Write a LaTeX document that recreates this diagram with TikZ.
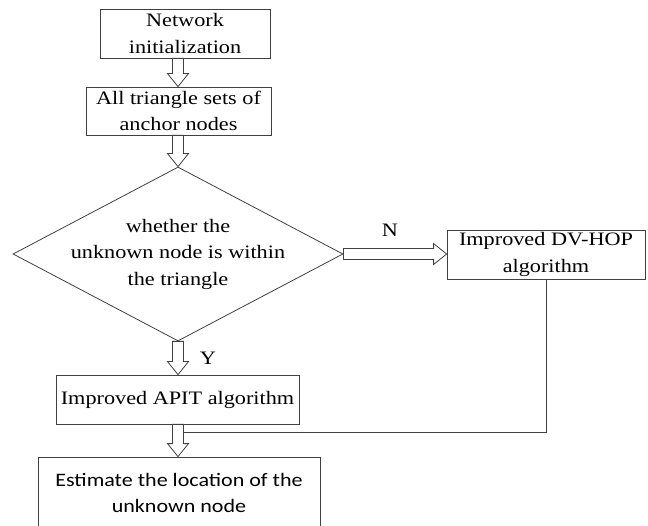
\documentclass[tikz,border=0pt]{standalone}
\usepackage{fontspec}
\setmainfont{Liberation Serif}[FakeStretch=1.17]
\newfontfamily\calibrifont{Carlito}[FakeStretch=1.16]
\usepackage{tikz}
\usetikzlibrary{shapes.geometric, positioning, calc}

% hollow block arrows (shaft 11pt, head 21pt x 13pt)
\newcommand{\fatdown}[2]{%
  \draw[hollow] let \p1=(#1), \p2=(#2) in
    (\x1-5.5pt,\y1) -- (\x1-5.5pt,\y2+13pt) -- (\x1-10.5pt,\y2+13pt)
    -- (\x1,\y2) -- (\x1+10.5pt,\y2+13pt) -- (\x1+5.5pt,\y2+13pt)
    -- (\x1+5.5pt,\y1) -- cycle;}
\newcommand{\fatright}[2]{%
  \draw[hollow] let \p1=(#1), \p2=(#2) in
    (\x1,\y1+5.5pt) -- (\x2-13pt,\y1+5.5pt) -- (\x2-13pt,\y1+10.5pt)
    -- (\x2,\y1) -- (\x2-13pt,\y1-10.5pt) -- (\x2-13pt,\y1-5.5pt)
    -- (\x1,\y1-5.5pt) -- cycle;}

\begin{document}
\begin{tikzpicture}[
  x=1pt, y=-1pt,
  txt/.style    = {font=\rmfamily\fontsize{19}{26.5}\selectfont},
  stage/.style  = {draw=black!75, line width=0.8pt, align=center, inner sep=0pt, txt},
  decision/.style = {draw=black!75, line width=0.8pt, diamond, inner sep=0pt,
                   minimum width=330pt, minimum height=174pt},
  hollow/.style = {draw=black!75, line width=0.8pt, fill=white, line join=miter},
  link/.style   = {draw=black!75, line width=0.8pt},
  lbl/.style    = {inner sep=0pt, txt},
]
\useasboundingbox (0,0) rectangle (648,526);

% ── Main column ───────────────────────────────────────────────────────────────
\node[stage, minimum width=170pt, minimum height=49pt] (net)  at (185,33.5)
      {Network\\initialization};
\node[stage, minimum width=185pt, minimum height=48pt] (tri)  at (178.5,111)
      {All triangle sets of\\anchor nodes};
\node[decision, label={[align=center, txt]center:whether the\\unknown node is within\\the triangle}]
      (dec) at (178,254) {};
\node[stage, minimum width=243pt, minimum height=49pt] (apit) at (177.5,399.5)
      {Improved APIT algorithm};
\node[stage, minimum width=282pt, minimum height=72pt,
      font=\calibrifont\fontsize{19}{26.5}\selectfont] (est) at (179,493)
      {Estimate the location of the\\unknown node};

% ── Side branch ───────────────────────────────────────────────────────────────
\node[stage, minimum width=198pt, minimum height=49pt] (dv) at (546,254.5)
      {Improved DV-HOP\\algorithm};

% ── Block arrows ──────────────────────────────────────────────────────────────
\fatdown{dec |- net.south}{dec |- tri.north}
\fatdown{dec |- tri.south}{dec.north}
\fatdown{dec.south}{dec |- apit.north}
\fatdown{dec |- apit.south}{dec |- est.north}
\fatright{dec.east}{dv.west}

% ── Return line and labels ────────────────────────────────────────────────────
\coordinate (join) at (183.5,432);
\draw[link] (dv.south) |- (join);
\path (dec.east) -- node[lbl, above=18pt, pos=0.45]{N} (dv.west);
\path (dec.south) -- node[lbl, right=22pt]{Y} (apit.north);

\end{tikzpicture}
\end{document}
